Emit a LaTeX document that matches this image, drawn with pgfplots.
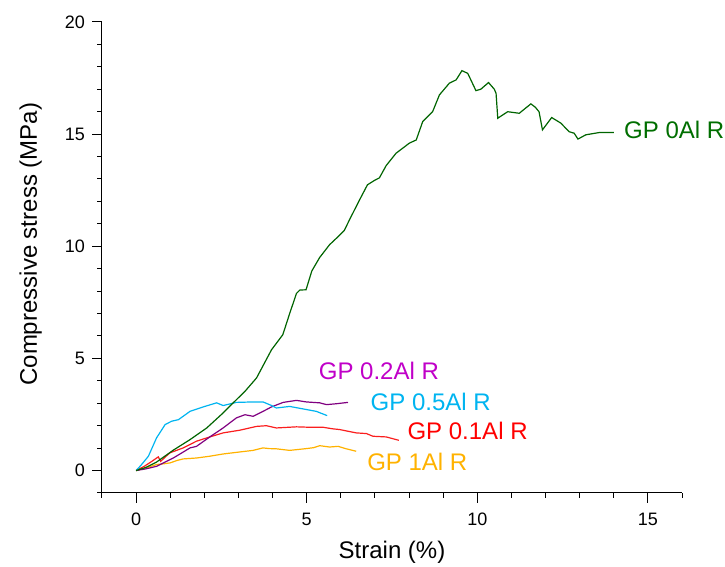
\documentclass[border=0pt]{standalone}
\usepackage{fontspec}
\setmainfont{Liberation Sans}
\usepackage{pgfplots}
\pgfplotsset{compat=1.18}
\definecolor{cgreen}{RGB}{0,100,0}
\definecolor{cgreenl}{RGB}{0,110,0}
\definecolor{cpurple}{RGB}{128,0,128}
\definecolor{cpurplel}{RGB}{192,0,200}
\definecolor{ccyan}{RGB}{0,180,240}
\definecolor{cred}{RGB}{250,30,30}
\definecolor{credl}{RGB}{255,0,0}
\definecolor{corange}{RGB}{255,178,0}
\begin{document}
\begin{tikzpicture}
\path[use as bounding box] (-102pt,-74pt) rectangle (623pt,493pt);
\begin{axis}[
  at={(0pt,0pt)}, anchor=south west,
  scale only axis, width=580pt, height=471pt,
  xmin=-1, xmax=16, ymin=-1, ymax=20,
  axis x line=bottom, axis y line=left,
  axis line style={-, line width=1pt},
  tick align=outside,
  xtick={0,5,10,15}, ytick={0,5,10,15,20},
  minor xtick={-1,0,...,16}, minor ytick={-1,0,...,20},
  major tick length=9.5pt, minor tick length=4.5pt,
  every tick/.style={black, line width=1pt},
  tick label style={font=\fontsize{18}{20}\selectfont},
  xticklabel style={yshift=-7pt},
  yticklabel style={xshift=-4pt},
  /pgf/number format/assume math mode=true,
  xlabel={Strain (\%)}, ylabel={Compressive stress (MPa)},
  label style={font=\fontsize{24}{26}\selectfont},
  xlabel style={at={(axis description cs:0.5,-0.125)}, anchor=center},
  ylabel style={at={(axis description cs:-0.123,0.528)}, anchor=center, rotate=0},
  clip=false,
]
\addplot[color=corange, line width=1.2pt] coordinates {
(0,0)(0.3,0.12)(0.6,0.27)(0.8,0.3)(0.99,0.34)(1.2,0.45)(1.38,0.52)(1.77,0.56)(2.16,0.64)(2.55,0.74)(3.04,0.83)(3.43,0.9)(3.72,1.01)(3.9,0.98)(4.11,0.97)(4.5,0.9)(4.99,0.98)(5.2,1.02)(5.38,1.11)(5.67,1.05)(5.92,1.08)(6.16,0.97)(6.45,0.86)};
\addplot[color=cred, line width=1.2pt] coordinates {
(0,0)(0.25,0.2)(0.46,0.41)(0.65,0.61)(0.72,0.41)(0.85,0.6)(0.99,0.79)(1.38,1.01)(1.77,1.31)(2.16,1.5)(2.55,1.68)(3.04,1.8)(3.53,1.97)(3.82,2.0)(4.11,1.9)(4.7,1.95)(5.1,1.93)(5.48,1.93)(5.77,1.86)(5.96,1.83)(6.45,1.68)(6.75,1.65)(6.94,1.53)(7.33,1.5)(7.7,1.35)};
\addplot[color=cpurple, line width=1.2pt] coordinates {
(0,0)(0.3,0.08)(0.6,0.19)(1.09,0.56)(1.58,1.01)(1.77,1.08)(2.16,1.5)(2.55,1.9)(2.94,2.35)(3.19,2.49)(3.43,2.42)(3.72,2.64)(3.97,2.84)(4.31,3.04)(4.7,3.13)(4.99,3.06)(5.38,3.02)(5.58,2.94)(5.87,2.98)(6.21,3.04)};
\addplot[color=ccyan, line width=1.2pt] coordinates {
(0,0)(0.15,0.25)(0.36,0.64)(0.6,1.46)(0.85,2.05)(1.04,2.2)(1.24,2.27)(1.58,2.64)(1.97,2.84)(2.36,3.02)(2.55,2.9)(2.94,3.04)(3.43,3.06)(3.72,3.06)(3.97,2.9)(4.11,2.79)(4.5,2.86)(4.89,2.75)(5.28,2.64)(5.6,2.45)};
\addplot[color=cgreen, line width=1.2pt] coordinates {
(0,0)(0.3,0.15)(0.6,0.38)(1.08,0.9)(1.58,1.38)(2.07,1.9)(2.5,2.5)(2.94,3.16)(3.2,3.55)(3.53,4.13)(3.97,5.39)(4.3,6.06)(4.5,7.0)(4.7,7.9)(4.8,8.05)(4.98,8.06)(5.15,8.9)(5.38,9.5)(5.67,10.07)(5.9,10.4)(6.1,10.7)(6.26,11.2)(6.55,12.07)(6.78,12.74)(7.0,12.95)(7.13,13.05)(7.33,13.6)(7.62,14.15)(8.01,14.6)(8.21,14.74)(8.4,15.56)(8.69,16.0)(8.89,16.75)(9.18,17.27)(9.38,17.42)(9.55,17.83)(9.72,17.71)(9.96,16.94)(10.1,17.0)(10.33,17.3)(10.5,17.0)(10.55,16.82)(10.6,15.71)(10.89,16.0)(11.23,15.93)(11.57,16.35)(11.7,16.2)(11.81,16.0)(11.91,15.19)(12.18,15.74)(12.45,15.49)(12.69,15.11)(12.84,15.04)(12.95,14.78)(13.18,14.97)(13.57,15.07)(14.0,15.07)};
\node[anchor=west, inner sep=0pt, text=cgreenl, font=\fontsize{24}{26}\selectfont] at (axis cs:14.3,15.19) {GP 0Al R};
\node[anchor=west, inner sep=0pt, text=cpurplel, font=\fontsize{24}{26}\selectfont] at (axis cs:5.35,4.45) {GP 0.2Al R};
\node[anchor=west, inner sep=0pt, text=ccyan, font=\fontsize{24}{26}\selectfont] at (axis cs:6.87,3.05) {GP 0.5Al R};
\node[anchor=west, inner sep=0pt, text=credl, font=\fontsize{24}{26}\selectfont] at (axis cs:7.95,1.78) {GP 0.1Al R};
\node[anchor=west, inner sep=0pt, text=corange, font=\fontsize{24}{26}\selectfont] at (axis cs:6.77,0.38) {GP 1Al R};
\end{axis}
\end{tikzpicture}
\end{document}
